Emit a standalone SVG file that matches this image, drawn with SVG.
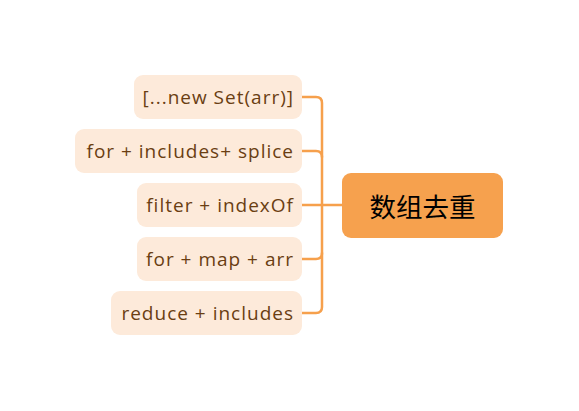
<svg xmlns="http://www.w3.org/2000/svg" width="579" height="411" viewBox="0 0 579 411">
<style>
.leaf rect{fill:#FDEADA;}
.leaf text{font-family:"Open Sans","Liberation Sans",sans-serif;font-size:19px;letter-spacing:1px;fill:#6A3E12;text-anchor:end;dominant-baseline:central;}
.conn path{fill:none;stroke:#F6A04C;stroke-width:2.5;stroke-linecap:round;}
.root rect{fill:#F6A14E;}
.root text{font-family:"Noto Sans CJK SC",sans-serif;font-size:26.5px;fill:#000;text-anchor:middle;dominant-baseline:central;}
</style>
<rect width="579" height="411" fill="#fff"/>
<g id="connectors" class="conn">
<path d="M302,97 h14 q6,0 6,6 V307 q0,6 -6,6 h-14"/>
<path d="M302,151 h14 q6,0 6,6"/>
<path d="M302,259 h14 q6,0 6,-6"/>
<path d="M302,205 H342"/>
</g>
<g id="n1" class="leaf"><rect x="134" y="75" width="168" height="44" rx="9"/><text x="294" y="97">[...new Set(arr)]</text></g>
<g id="n2" class="leaf"><rect x="75" y="129" width="227" height="44" rx="9"/><text x="294" y="151">for + includes+ splice</text></g>
<g id="n3" class="leaf"><rect x="137" y="183" width="165" height="44" rx="9"/><text x="294" y="205">filter + indexOf</text></g>
<g id="n4" class="leaf"><rect x="137" y="237" width="165" height="44" rx="9"/><text x="294" y="259">for + map + arr</text></g>
<g id="n5" class="leaf"><rect x="111" y="291" width="191" height="44" rx="9"/><text x="294" y="313">reduce + includes</text></g>
<g id="root" class="root"><rect x="342" y="173" width="161" height="65" rx="9"/><text x="422.5" y="205.5">数组去重</text></g>
</svg>
